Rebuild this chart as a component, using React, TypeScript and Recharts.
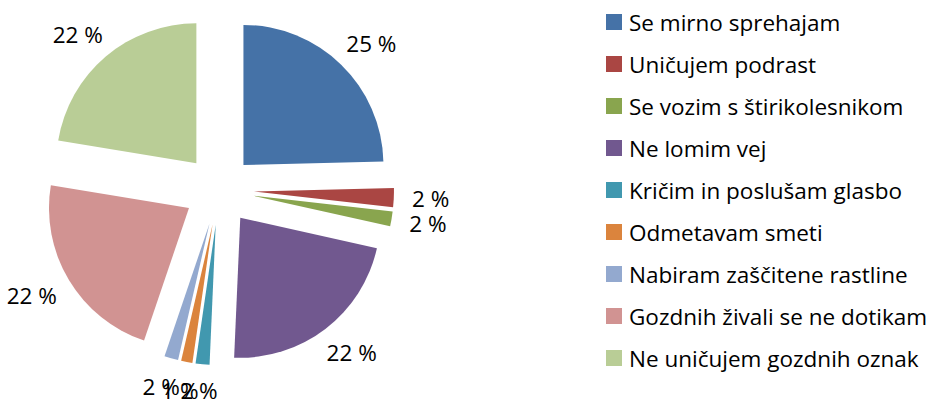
import React from 'react';
import { PieChart, Pie, Cell, Sector, Legend } from 'recharts';

const categories = [
  'Se mirno sprehajam',
  'Uničujem podrast',
  'Se vozim s štirikolesnikom',
  'Ne lomim vej',
  'Kričim in poslušam glasbo',
  'Odmetavam smeti',
  'Nabiram zaščitene rastline',
  'Gozdnih živali se ne dotikam',
  'Ne uničujem gozdnih oznak',
];
const values = [24.6, 2.2, 1.7, 22.2, 1.6, 1.3, 1.6, 22.4, 22.4];
const colors = ['#4572A7', '#AA4643', '#89A54E', '#71588F', '#4198AF', '#DB843D', '#93A9CF', '#D19392', '#B9CD96'];

const data = categories.map((name, i) => ({ name, value: values[i] }));

const RAD = Math.PI / 180;
const EXPLODE = 35;
const FONT = '"Open Sans", sans-serif';
const FS = 22.5;

const ExplodedSector = (props: any) => {
  const { cx, cy, midAngle } = props;
  const dx = EXPLODE * Math.cos(-midAngle * RAD);
  const dy = EXPLODE * Math.sin(-midAngle * RAD);
  return <Sector {...props} cx={cx + dx} cy={cy + dy} stroke="none" />;
};

const renderLabel = (props: any) => {
  const { cx, cy, midAngle, value } = props;
  const text = `${Math.round(value)} %`;
  const digits = String(Math.round(value)).length;
  const w = (digits * 0.572 + 1.1) * FS;
  const h = FS;
  const cos = Math.cos(-midAngle * RAD);
  const sin = Math.sin(-midAngle * RAD);
  const R = 193;
  const x = cx + R * cos + (w / 2) * cos;
  const y = Math.min(cy + R * sin + (h / 2) * sin, 390);
  return (
    <text x={x} y={y} textAnchor="middle" dominantBaseline="central" fontFamily={FONT} fontSize={FS} fill="#000">
      {text}
    </text>
  );
};

const renderLegend = () => (
  <div style={{ fontFamily: FONT, fontSize: FS, color: '#000' }}>
    {categories.map((c, i) => (
      <div key={c} style={{ display: 'flex', alignItems: 'center', height: 42 }}>
        <span style={{ display: 'inline-block', width: 16, height: 16, background: colors[i], marginRight: 7, flexShrink: 0 }} />
        <span style={{ whiteSpace: 'nowrap' }}>{c}</span>
      </div>
    ))}
  </div>
);

export default function App() {
  return (
    <div style={{ position: 'absolute', left: 0, top: 0, width: 934, height: 403, background: '#fff' }}>
      <PieChart width={934} height={403} margin={{ top: 0, right: 0, bottom: 0, left: 0 }}>
        <Pie
          data={data}
          dataKey="value"
          nameKey="name"
          cx={219}
          cy={190}
          outerRadius={140}
          startAngle={90}
          endAngle={-270}
          isAnimationActive={false}
          stroke="none"
          labelLine={false}
          label={renderLabel}
          shape={ExplodedSector}
          activeShape={ExplodedSector}
          inactiveShape={ExplodedSector}
        >
          {data.map((d, i) => (
            <Cell key={d.name} fill={colors[i]} />
          ))}
        </Pie>
        <Legend
          layout="vertical"
          align="right"
          verticalAlign="top"
          content={renderLegend}
          wrapperStyle={{ left: 606, top: 1, width: 328 }}
        />
      </PieChart>
    </div>
  );
}
